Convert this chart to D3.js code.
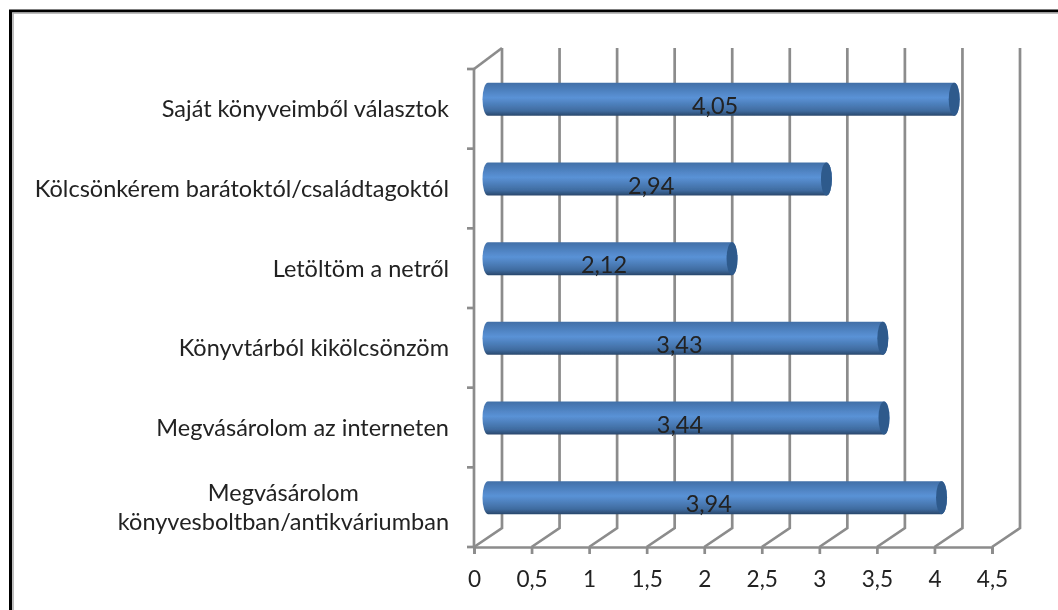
<!DOCTYPE html>
<html>
<head>
<meta charset="utf-8">
<script src="https://d3js.org/d3.v7.min.js"></script>
<style>
  html, body { margin: 0; padding: 0; background: #fff; }
  svg { display: block; }
  text { font-family: Lato, "Open Sans", sans-serif; fill: #222; }
</style>
</head>
<body>
<svg id="chart" width="1058" height="610"></svg>
<script>
var categories = [
  ["Saját könyveimből választok"],
  ["Kölcsönkérem barátoktól/családtagoktól"],
  ["Letöltöm a netről"],
  ["Könyvtárból kikölcsönzöm"],
  ["Megvásárolom az interneten"],
  ["Megvásárolom", "könyvesboltban/antikváriumban"]
];
var values = [4.05, 2.94, 2.12, 3.43, 3.44, 3.94];
var xTicks = [0, 0.5, 1, 1.5, 2, 2.5, 3, 3.5, 4, 4.5];

var gridColor = "#8c8c8c";
var gridWidth = 2.7;
var depthX = 28, depthY = -19;
var barH = 33, capR = 5.5;

var svg = d3.select("#chart");

var x = d3.scaleLinear().domain([0, 4.5]).range([474, 992]);
var y = d3.scaleBand().domain(d3.range(categories.length)).range([69, 547]);

function comma(v) { return String(v).replace(".", ","); }
function rowCenter(i) { return y(i) + y.bandwidth() / 2 + depthY / 2; }

var defs = svg.append("defs");

var grad = defs.append("linearGradient")
  .attr("id", "barFill")
  .attr("x1", 0).attr("y1", 0).attr("x2", 0).attr("y2", 1);
grad.append("stop").attr("offset", "0%").attr("stop-color", "#416fa7");
grad.append("stop").attr("offset", "45%").attr("stop-color", "#5a92d6");
grad.append("stop").attr("offset", "85%").attr("stop-color", "#3f6b9f");
grad.append("stop").attr("offset", "100%").attr("stop-color", "#29476b");

// the source is a soft screenshot, so everything gets a small blur
defs.append("filter").attr("id", "soft")
  .append("feGaussianBlur").attr("stdDeviation", 0.7);

var root = svg.append("g").attr("filter", "url(#soft)");

// frame: only top and left sides are visible
root.append("path").attr("d", "M1060,11H10.5V612").attr("fill", "none")
  .attr("stroke", "#000").attr("stroke-width", 3);
root.append("path").attr("d", "M1060,13H13V612").attr("fill", "none")
  .attr("stroke", "#a8a8a8").attr("stroke-width", 1.5);

// gridlines on the back wall, running down and out over the floor
root.append("g").selectAll("path")
  .data(xTicks)
  .enter().append("path")
  .attr("d", function(d) {
    var x0 = x(d);
    return "M" + (x0 + depthX) + "," + (y.range()[0] + depthY - 2) +
      "V" + (y.range()[1] + depthY) +
      "L" + x0 + "," + y.range()[1];
  })
  .attr("fill", "none")
  .attr("stroke", gridColor)
  .attr("stroke-width", gridWidth);

// corner between the side wall and the back wall
root.append("line")
  .attr("x1", x(0)).attr("y1", y.range()[0])
  .attr("x2", x(0) + depthX).attr("y2", y.range()[0] + depthY - 2)
  .attr("stroke", gridColor).attr("stroke-width", gridWidth);

// category axis
var yLine = root.append("g");
yLine.append("line")
  .attr("x1", x(0)).attr("x2", x(0))
  .attr("y1", y.range()[0]).attr("y2", y.range()[1])
  .attr("stroke", gridColor).attr("stroke-width", gridWidth);
yLine.selectAll(".tick")
  .data(d3.range(categories.length + 1))
  .enter().append("line")
  .attr("class", "tick")
  .attr("x1", x(0) - 7).attr("x2", x(0))
  .attr("y1", function(i) { return y.range()[0] + i * y.step(); })
  .attr("y2", function(i) { return y.range()[0] + i * y.step(); })
  .attr("stroke", gridColor).attr("stroke-width", gridWidth);

// value axis
var xAxis = root.append("g")
  .attr("transform", "translate(0," + y.range()[1] + ")")
  .call(d3.axisBottom(x).tickValues(xTicks).tickFormat(comma).tickSize(7).tickPadding(17));
xAxis.select(".domain").attr("stroke", gridColor).attr("stroke-width", gridWidth);
xAxis.selectAll(".tick line").attr("stroke", gridColor).attr("stroke-width", gridWidth);
xAxis.selectAll(".tick text").style("font-size", "22.6px").attr("font-family", null);

// category labels
var labels = root.append("g").selectAll("text")
  .data(categories)
  .enter().append("text")
  .attr("text-anchor", "middle")
  .style("font-size", "23.5px")
  .attr("y", function(d, i) { return rowCenter(i) + 18; });

labels.each(function(lines) {
  var el = d3.select(this);
  var cy = +el.attr("y");
  var widest = 0;
  lines.forEach(function(line, n) {
    var t = el.append("tspan")
      .attr("y", lines.length > 1 ? cy + (n - 0.5) * 29 : cy)
      .text(line);
    widest = Math.max(widest, t.node().getComputedTextLength());
  });
  el.selectAll("tspan").attr("x", 449 - widest / 2);
});

// cylinders
var bars = root.append("g").selectAll("g")
  .data(values)
  .enter().append("g")
  .attr("transform", function(d, i) {
    return "translate(0," + rowCenter(i) + ")";
  });

bars.append("path")
  .attr("d", function(d) {
    var x0 = x(0) + depthX / 2, x1 = x0 + (x(d) - x(0));
    return "M" + x0 + "," + (-barH / 2) +
      "H" + x1 +
      "A" + capR + "," + barH / 2 + " 0 0 1 " + x1 + "," + (barH / 2) +
      "H" + x0 +
      "A" + capR + "," + barH / 2 + " 0 0 1 " + x0 + "," + (-barH / 2) + "Z";
  })
  .attr("fill", "url(#barFill)");

bars.append("ellipse")
  .attr("cx", function(d) { return x(0) + depthX / 2 + (x(d) - x(0)); })
  .attr("cy", 0)
  .attr("rx", capR)
  .attr("ry", barH / 2)
  .attr("fill", "#2f5a8c");

// value labels
root.append("g").selectAll("text")
  .data(values)
  .enter().append("text")
  .attr("text-anchor", "middle")
  .style("font-size", "23.5px")
  .attr("x", function(d) { return x(0) + 8 + (x(d) - x(0)) / 2; })
  .attr("y", function(d, i) { return rowCenter(i) + 14.5; })
  .text(function(d) { return comma(d); });
</script>
</body>
</html>
